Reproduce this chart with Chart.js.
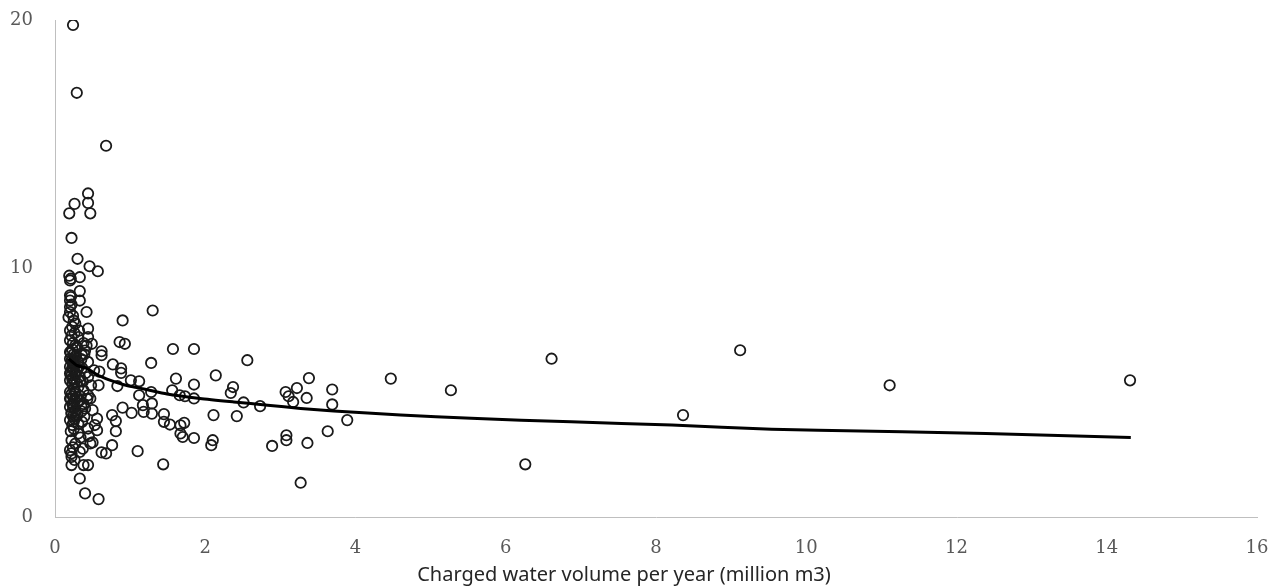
<!DOCTYPE html>
<html>
<head>
<meta charset="utf-8">
<script src="https://cdn.jsdelivr.net/npm/chart.js@4.4.1/dist/chart.umd.min.js"></script>
<style>
  html, body { margin: 0; padding: 0; background: #ffffff; }
  #wrap { width: 1279px; height: 587px; }
</style>
</head>
<body>
<div id="wrap"><canvas id="c" width="1279" height="587"></canvas></div>
<script>
// Observed points: charged water volume (million m3) vs value
const volumeX = [
  0.24,0.29,0.68,0.44,0.26,0.44,0.19,0.47,0.22,0.30,0.46,0.57,0.19,0.33,0.21,0.33,0.21,
  0.20,0.20,0.20,0.20,0.33,0.42,0.20,0.18,0.27,0.44,0.20,0.31,0.44,0.20,0.49,0.29,0.20,0.36,0.20,0.31,0.44,0.20,0.29,
  0.20,0.44,0.20,0.58,0.31,0.20,0.44,0.29,
  1.30,0.90,0.86,0.93,1.57,1.85,0.62,0.62,2.56,1.28,0.77,0.88,0.88,0.59,2.14,1.61,3.38,1.01,1.12,0.83,1.85,3.22,3.69,2.37,
  2.34,3.07,3.11,1.28,1.56,1.66,1.73,1.85,1.12,3.35,3.17,2.51,2.73,3.69,1.17,1.29,0.90,1.18,1.29,1.02,1.45,2.11,2.42,0.76,
  1.45,1.53,1.67,1.72,3.89,0.81,3.63,0.81,1.67,1.70,1.85,2.10,2.08,3.08,3.08,3.36,2.89,0.76,0.68,1.10,1.44,3.27,
  0.20,0.33,0.47,0.20,0.40,0.56,0.20,0.36,0.44,0.56,0.31,0.22,0.47,0.20,0.33,0.62,0.22,0.22,0.38,0.44,0.33,0.40,0.58,0.22,
  0.22,0.24,0.25,0.23,0.26,0.22,0.24,0.27,0.23,0.25,0.27,0.22,0.24,0.26,0.23,0.25,0.27,0.22,0.24,0.26,0.23,0.25,0.27,0.22,
  0.24,0.26,0.23,0.25,0.27,0.22,0.24,0.26,0.23,0.25,0.27,0.24,0.26,0.30,0.34,0.36,0.38,0.35,0.32,0.38,0.40,0.34,0.37,0.45,
  0.50,0.48,0.52,0.53,0.50,
  0.21,0.23,0.25,0.28,0.30,0.32,0.35,0.39,0.42,0.21,0.23,0.26,0.29,0.33,0.37,0.41,0.21,0.24,0.27,0.30,0.34,0.38,0.43,0.22,
  0.25,0.28,0.31,0.35,0.39,0.21,
  4.47,5.27,6.61,6.26,8.36,9.12,11.11,14.31
];
const valueY = [
  19.8,17.07,14.94,13.02,12.6,12.64,12.22,12.22,11.23,10.39,10.09,9.89,9.71,9.65,9.59,9.09,8.85,
  9.52,8.92,8.71,8.45,8.71,8.25,8.25,8.04,7.78,7.58,7.51,7.24,7.24,7.11,6.97,6.84,6.64,6.51,6.37,6.24,6.24,6.04,5.90,
  5.77,5.63,5.50,5.30,5.23,5.03,4.90,4.83,
  8.31,7.91,7.04,6.97,6.76,6.76,6.67,6.51,6.31,6.20,6.14,5.98,5.80,5.85,5.70,5.57,5.59,5.50,5.46,5.27,5.33,5.19,5.13,5.23,
  4.99,5.03,4.86,5.03,5.10,4.90,4.86,4.77,4.90,4.79,4.63,4.61,4.46,4.53,4.50,4.57,4.40,4.23,4.16,4.19,4.14,4.10,4.06,4.10,
  3.83,3.72,3.69,3.79,3.90,3.86,3.45,3.45,3.36,3.22,3.18,3.09,2.89,3.29,3.09,2.98,2.86,2.89,2.56,2.65,2.12,1.38,
  4.77,4.70,4.77,4.43,4.37,3.96,3.90,3.83,3.56,3.49,3.36,3.09,2.96,2.69,2.62,2.60,2.42,2.09,2.09,2.09,1.55,0.95,0.72,2.56,
  8.55,8.10,7.90,7.65,7.40,7.30,7.00,6.90,6.75,6.55,6.45,6.30,6.20,6.10,6.00,5.92,5.80,5.70,5.60,5.45,5.35,5.15,5.05,4.95,
  4.85,4.65,4.55,4.40,4.30,4.20,4.05,3.95,3.70,3.55,2.95,2.80,2.30,4.10,5.50,6.00,5.10,4.50,7.50,7.00,6.70,3.20,2.75,3.25,
  4.30,5.30,5.90,3.70,3.00,
  6.60,6.35,6.15,6.50,6.80,6.05,6.35,6.55,6.90,5.85,5.55,5.75,5.40,5.65,5.45,5.80,4.75,4.50,4.95,4.60,4.85,4.55,4.75,4.15,
  3.85,4.05,3.75,4.25,4.05,3.45,
  5.57,5.10,6.37,2.12,4.10,6.71,5.30,5.50
];
// Trend line
const trendX = [0.18,0.29,0.42,0.59,0.73,0.93,1.05,1.20,1.49,1.93,2.38,2.83,3.27,3.71,4.16,4.60,5.54,6.87,8.21,9.54,10.16,12.39,14.32];
const trendY = [6.37,6.10,5.98,5.68,5.51,5.31,5.23,5.14,4.95,4.77,4.63,4.50,4.37,4.27,4.19,4.10,3.97,3.83,3.70,3.53,3.49,3.36,3.20];
const xTickStep = 2, xMin = 0, xMax = 16;
const yTickStep = 10, yMin = 0, yMax = 20;
const xTitle = 'Charged water volume per year (million m3)';

const scatterPts = volumeX.map((x, i) => ({ x: x, y: valueY[i] }));
const trendPts = trendX.map((x, i) => ({ x: x, y: trendY[i] }));

const tickFont = { family: "'DejaVu Serif', serif", size: 18 };

// Axis title drawn as canvas text, slightly left of the plot centre as in the original
const axisTitlePlugin = {
  id: 'axisTitle',
  afterDraw(chart) {
    const { ctx, chartArea } = chart;
    ctx.save();
    ctx.font = "20px 'Noto Sans', sans-serif";
    ctx.fillStyle = '#262626';
    ctx.textAlign = 'center';
    ctx.textBaseline = 'middle';
    ctx.fillText(xTitle, (chartArea.left + chartArea.right) / 2 - 32, chartArea.bottom + 58);
    ctx.restore();
  }
};

new Chart(document.getElementById('c'), {
  type: 'scatter',
  data: {
    datasets: [
      {
        type: 'line',
        data: trendPts,
        borderColor: '#000000',
        borderWidth: 3,
        pointRadius: 0,
        fill: false,
        tension: 0.2,
        order: 0
      },
      {
        data: scatterPts,
        pointStyle: 'circle',
        pointRadius: 5.2,
        borderWidth: 1.8,
        borderColor: '#1a1a1a',
        backgroundColor: 'rgba(255,255,255,0)',
        order: 1
      }
    ]
  },
  plugins: [axisTitlePlugin],
  options: {
    responsive: false,
    animation: false,
    devicePixelRatio: 1,
    layout: { padding: 0 },
    plugins: { legend: { display: false }, tooltip: { enabled: false } },
    scales: {
      x: {
        type: 'linear',
        min: xMin, max: xMax,
        ticks: { stepSize: xTickStep, font: tickFont, color: '#595959', padding: 21, maxRotation: 0 },
        grid: { display: false, drawTicks: false, tickLength: 0 },
        border: { display: true, color: '#bfbfbf', width: 1 },
        afterFit: s => { s.height = 70; s.paddingLeft = 0; s.paddingRight = 22; }
      },
      y: {
        type: 'linear',
        min: yMin, max: yMax,
        ticks: { stepSize: yTickStep, font: tickFont, color: '#595959', padding: 22 },
        grid: { display: false, drawTicks: false, tickLength: 0 },
        border: { display: true, color: '#bfbfbf', width: 1 },
        afterFit: s => { s.width = 55; s.paddingTop = 20; s.paddingBottom = 0; }
      }
    }
  }
});
</script>
</body>
</html>
